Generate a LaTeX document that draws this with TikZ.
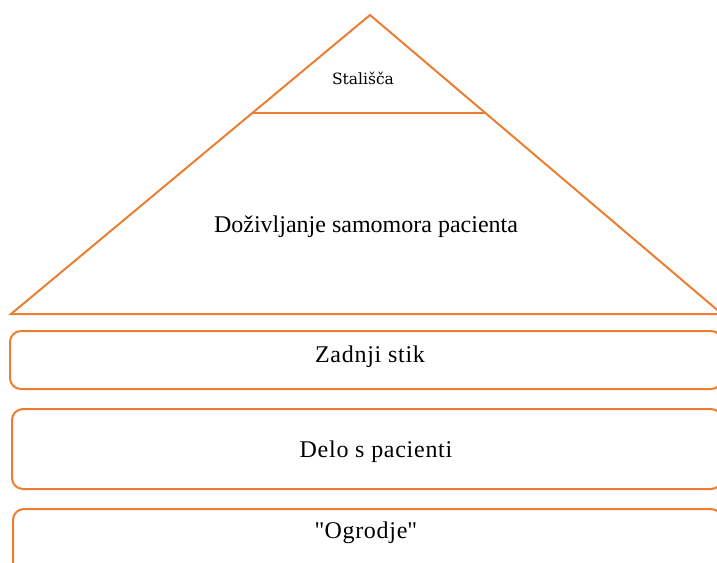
\documentclass[tikz,border=0pt]{standalone}
\usepackage{fontspec}
\setmainfont{Liberation Serif}
\newfontfamily\apexfont{DejaVu Serif}
\newfontfamily\layerfont[LetterSpace=3]{Liberation Serif}
\definecolor{accent}{HTML}{ED7D31}
\begin{document}
\begin{tikzpicture}[x=1pt,y=-1pt,
  outline/.style={draw=accent, line width=2pt, line join=miter},
  layerbox/.style={draw=accent, line width=2pt, rounded corners=11pt,
    rectangle, inner sep=0pt},
  pyramidtext/.style={anchor=base, inner sep=0pt,
    font=\fontsize{24}{28}\selectfont},
  layertext/.style={anchor=base, inner sep=0pt,
    font=\layerfont\fontsize{24}{28}\selectfont},
  apextext/.style={anchor=base, inner sep=0pt,
    font=\apexfont\fontsize{15.5}{18}\selectfont}]
\useasboundingbox (0,0) rectangle (717,562);
\clip (0,0) rectangle (717,562);

% pyramid
\coordinate (apex) at (370,15);
\coordinate (baseL) at (11,314);
\coordinate (baseR) at (722,314);
\coordinate (tipL) at (253,113);
\coordinate (tipR) at (486,113);
\draw[outline] (baseL) -- (apex) -- (baseR) -- cycle;
\draw[outline] (tipL) -- (tipR);

\node[apextext] (stalisca) at (363,84) {Stališča};
\node[pyramidtext] (dozivljanje) at (366,232) {Doživljanje samomora pacienta};

% foundation layers
\node[layerbox, minimum width=712, minimum height=58] (box1) at (366,360) {};
\node[layerbox, minimum width=710, minimum height=80] (box2) at (367,449) {};
\node[layerbox, minimum width=709, minimum height=90] (box3) at (367.5,554) {};

\node[layertext] (zadnji) at (370,362) {Zadnji stik};
\node[layertext] (delo) at (376,457) {Delo s pacienti};
\node[layertext] (ogrodje) at (366,538) {\textquotedbl Ogrodje\textquotedbl};
\end{tikzpicture}
\end{document}
